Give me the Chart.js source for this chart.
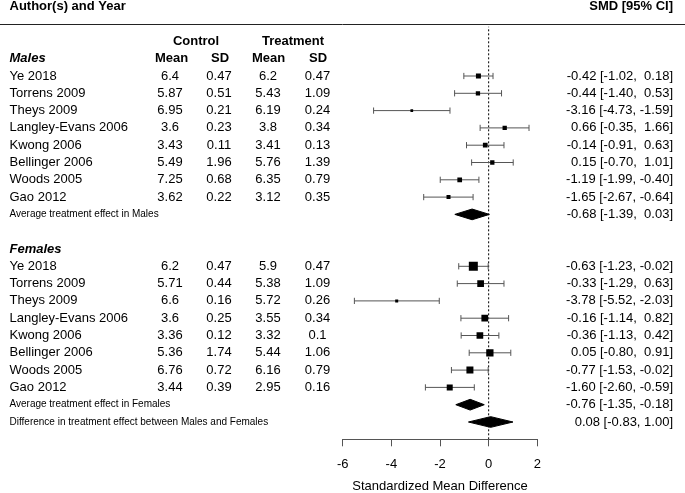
<!DOCTYPE html>
<html>
<head>
<meta charset="utf-8">
<script src="https://cdn.jsdelivr.net/npm/chart.js@4.4.0/dist/chart.umd.min.js"></script>
<style>
  html, body { margin: 0; padding: 0; background: #fff; }
  #wrap { width: 685px; height: 493px; }
</style>
</head>
<body>
<div id="wrap"><canvas id="forest" width="685" height="493"></canvas></div>
<script>
// --- data ---
const studies = ['Ye 2018', 'Torrens 2009', 'Theys 2009', 'Langley-Evans 2006',
                 'Kwong 2006', 'Bellinger 2006', 'Woods 2005', 'Gao 2012'];

// Males
const maleCtrlMean = [6.4, 5.87, 6.95, 3.6, 3.43, 5.49, 7.25, 3.62];
const maleCtrlSD   = [0.47, 0.51, 0.21, 0.23, 0.11, 1.96, 0.68, 0.22];
const maleTrtMean  = [6.2, 5.43, 6.19, 3.8, 3.41, 5.76, 6.35, 3.12];
const maleTrtSD    = [0.47, 1.09, 0.24, 0.34, 0.13, 1.39, 0.79, 0.35];
const maleSMD      = [-0.42, -0.44, -3.16, 0.66, -0.14, 0.15, -1.19, -1.65];
const maleLo       = [-1.02, -1.40, -4.73, -0.35, -0.91, -0.70, -1.99, -2.67];
const maleHi       = [0.18, 0.53, -1.59, 1.66, 0.63, 1.01, -0.40, -0.64];
const maleWeight   = [5.0, 4.3, 2.7, 4.3, 4.7, 4.3, 4.7, 4.0];   // relative study weight

// Females
const femCtrlMean = [6.2, 5.71, 6.6, 3.6, 3.36, 5.36, 6.76, 3.44];
const femCtrlSD   = [0.47, 0.44, 0.16, 0.25, 0.12, 1.74, 0.72, 0.39];
const femTrtMean  = [5.9, 5.38, 5.72, 3.55, 3.32, 5.44, 6.16, 2.95];
const femTrtSD    = [0.47, 1.09, 0.26, 0.34, 0.1, 1.06, 0.79, 0.16];
const femSMD      = [-0.63, -0.33, -3.78, -0.16, -0.36, 0.05, -0.77, -1.60];
const femLo       = [-1.23, -1.29, -5.52, -1.14, -1.13, -0.80, -1.53, -2.60];
const femHi       = [-0.02, 0.63, -2.03, 0.82, 0.42, 0.91, -0.02, -0.59];
const femWeight   = [9.0, 6.7, 3.0, 6.7, 6.7, 7.3, 7.0, 6.0];

// pooled estimates
const summaryLabels = ['Average treatment effect in Males',
                       'Average treatment effect in Females',
                       'Difference in treatment effect between Males and Females'];
const summaryEst = [-0.68, -0.76, 0.08];
const summaryLo  = [-1.39, -1.35, -0.83];
const summaryHi  = [0.03, -0.18, 1.00];

const xTicks = [-6, -4, -2, 0, 2];

// --- layout (rows counted up from the axis) ---
const maleRows = studies.map((s, i) => 21 - i);
const femRows = studies.map((s, i) => 10 - i);
const summaryRows = [13, 2, 1];
const padPositive = [true, true, false];

const FONT = "'Liberation Sans', Arial, Helvetica, sans-serif";
Chart.defaults.font.family = FONT;
Chart.defaults.color = '#000';

const fmt = v => v.toFixed(2);
const ciText = (e, lo, hi, pad) => {
  const p = v => (pad && v >= 0 ? ' ' : '') + fmt(v);
  return fmt(e) + ' [' + p(lo) + ', ' + p(hi) + ']';
};

// squares
const allEst = maleSMD.concat(femSMD);
const allLo = maleLo.concat(femLo);
const allHi = maleHi.concat(femHi);
const allRows = maleRows.concat(femRows);
const allWeight = maleWeight.concat(femWeight);
const squarePts = allEst.map((e, i) => ({ x: e, y: allRows[i] }));
const squareRadius = allWeight.map(w => w / Math.SQRT2);

// whiskers with end caps, separated by gaps
const CAP = 0.18;
const whiskerPts = [];
allEst.forEach((e, i) => {
  const r = allRows[i], lo = allLo[i], hi = allHi[i];
  whiskerPts.push({ x: lo, y: r - CAP }, { x: lo, y: r + CAP }, { x: lo, y: null });
  whiskerPts.push({ x: lo, y: r }, { x: hi, y: r }, { x: hi, y: null });
  whiskerPts.push({ x: hi, y: r - CAP }, { x: hi, y: r + CAP }, { x: hi, y: null });
});

// diamonds
const DH = 0.31;
const diamondSets = summaryEst.map((e, i) => {
  const r = summaryRows[i];
  return {
    type: 'line',
    data: [
      { x: summaryLo[i], y: r }, { x: e, y: r + DH },
      { x: summaryHi[i], y: r }, { x: e, y: r - DH }, { x: summaryLo[i], y: r }
    ],
    borderColor: '#000', backgroundColor: '#000', borderWidth: 1,
    fill: 'shape', pointRadius: 0, tension: 0
  };
});

const tablePlugin = {
  id: 'forestTable',
  afterDraw(chart) {
    const ctx = chart.ctx;
    const ys = chart.scales.y;
    const py = r => ys.getPixelForValue(r);
    const txt = (s, x, r, align, font) => {
      ctx.font = font;
      ctx.textAlign = align;
      ctx.textBaseline = 'middle';
      ctx.fillStyle = '#000';
      ctx.fillText(s, x, py(r));
    };
    const norm = '13px ' + FONT, bold = 'bold 13px ' + FONT,
          boldIt = 'italic bold 13px ' + FONT, small = '10px ' + FONT;
    ctx.save();

    // header + rule
    txt('Author(s) and Year', 9.5, 25, 'left', bold);
    txt('SMD [95% CI]', 673, 25, 'right', bold);
    const ly = Math.round(py(24)) + 0.5;
    ctx.strokeStyle = '#222';
    ctx.lineWidth = 1;
    ctx.beginPath(); ctx.moveTo(0, ly); ctx.lineTo(685, ly); ctx.stroke();

    txt('Control', 196, 23, 'center', bold);
    txt('Treatment', 293, 23, 'center', bold);
    txt('Males', 9.5, 22, 'left', boldIt);
    txt('Mean', 171.5, 22, 'center', bold);
    txt('SD', 220, 22, 'center', bold);
    txt('Mean', 268.5, 22, 'center', bold);
    txt('SD', 318, 22, 'center', bold);
    txt('Females', 9.5, 11, 'left', boldIt);

    const cols = [170, 219, 268, 317.5];
    const groups = [
      [maleRows, maleCtrlMean, maleCtrlSD, maleTrtMean, maleTrtSD, maleSMD, maleLo, maleHi],
      [femRows, femCtrlMean, femCtrlSD, femTrtMean, femTrtSD, femSMD, femLo, femHi]
    ];
    groups.forEach(g => {
      const [rows, cm, cs, tm, ts, e, lo, hi] = g;
      studies.forEach((s, i) => {
        const r = rows[i];
        txt(s, 9.5, r, 'left', norm);
        txt(String(cm[i]), cols[0], r, 'center', norm);
        txt(String(cs[i]), cols[1], r, 'center', norm);
        txt(String(tm[i]), cols[2], r, 'center', norm);
        txt(String(ts[i]), cols[3], r, 'center', norm);
        txt(ciText(e[i], lo[i], hi[i], true), 673, r, 'right', norm);
      });
    });
    summaryLabels.forEach((s, i) => {
      txt(s, 9.5, summaryRows[i], 'left', small);
      txt(ciText(summaryEst[i], summaryLo[i], summaryHi[i], padPositive[i]), 673, summaryRows[i], 'right', norm);
    });
    ctx.restore();
  }
};

new Chart(document.getElementById('forest'), {
  type: 'scatter',
  data: {
    datasets: [
      {
        type: 'scatter',
        data: squarePts,
        pointStyle: 'rect',
        pointRadius: squareRadius,
        pointBorderWidth: 0,
        backgroundColor: '#000',
        borderColor: '#000'
      },
      ...diamondSets,
      {
        type: 'line',
        data: whiskerPts,
        borderColor: '#555',
        borderWidth: 1,
        pointRadius: 0,
        spanGaps: false,
        tension: 0
      },
      {
        type: 'line',
        data: [{ x: 0, y: 0 }, { x: 0, y: 23.85 }],
        borderColor: '#000',
        borderWidth: 1,
        borderDash: [2, 2],
        pointRadius: 0
      }
    ]
  },
  options: {
    responsive: false,
    devicePixelRatio: 1,
    animation: false,
    layout: { padding: { left: 342.7, right: 147.7, top: 24.1, bottom: 0.2 } },
    plugins: { legend: { display: false }, tooltip: { enabled: false } },
    scales: {
      x: {
        type: 'linear', min: -6, max: 2,
        afterBuildTicks: axis => { axis.ticks = xTicks.map(v => ({ value: v })); },
        ticks: { font: { size: 13, lineHeight: 1 }, color: '#000', padding: 11.5 },
        grid: { drawOnChartArea: false, drawTicks: true, tickLength: 7, color: '#555' },
        border: { display: true, color: '#555', width: 1 },
        title: {
          display: true, text: 'Standardized Mean Difference', color: '#000',
          font: { size: 13, lineHeight: 1 }, padding: { top: -2.5, bottom: 0 }
        }
      },
      y: { type: 'linear', min: 0, max: 24, display: false }
    }
  },
  plugins: [tablePlugin]
});
</script>
</body>
</html>
